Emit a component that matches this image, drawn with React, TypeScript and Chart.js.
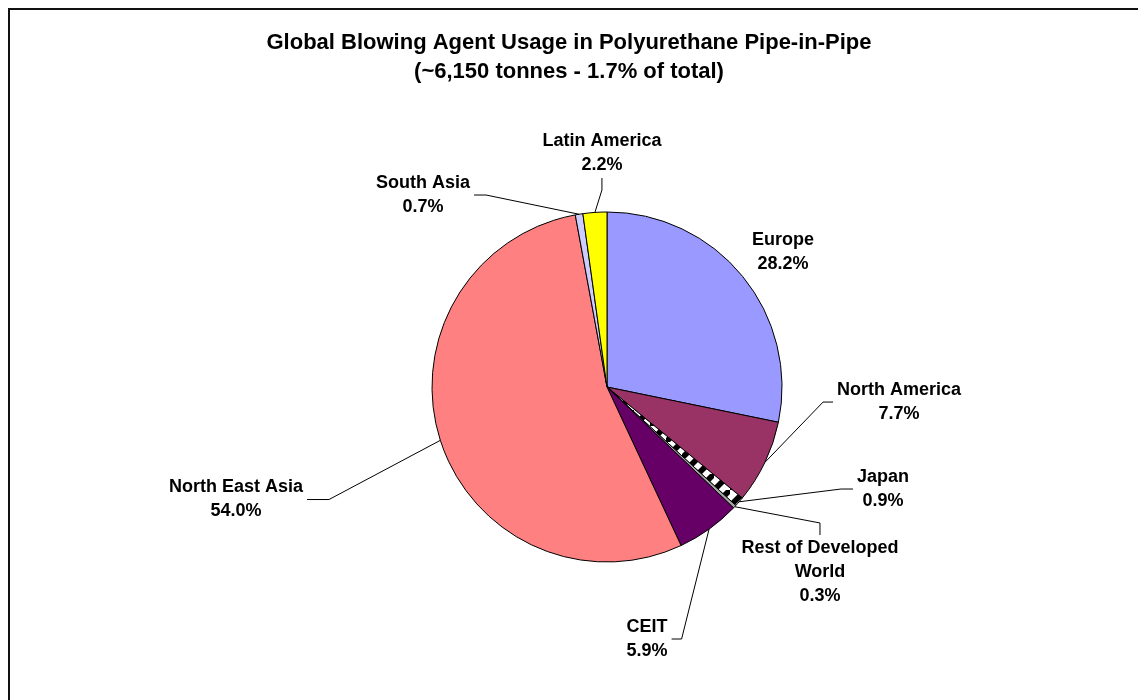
import React, { useEffect, useRef } from 'react';
import { Chart, registerables } from 'chart.js';

Chart.register(...registerables);

// ---- data ----
const categories = [
  'Europe',
  'North America',
  'Japan',
  'Rest of Developed World',
  'CEIT',
  'North East Asia',
  'South Asia',
  'Latin America',
];
const shares = [28.2, 7.7, 0.9, 0.3, 5.9, 54.0, 0.7, 2.2];
const nameLines = [
  ['Europe'],
  ['North America'],
  ['Japan'],
  ['Rest of Developed', 'World'],
  ['CEIT'],
  ['North East Asia'],
  ['South Asia'],
  ['Latin America'],
];
const titleLines = [
  'Global Blowing Agent Usage in Polyurethane Pipe-in-Pipe',
  '(~6,150 tonnes - 1.7% of total)',
];

// ---- styles / layout ----
const sliceColors = ['#9999FF', '#993366', 'PATTERN', '#A6A6A6', '#660066', '#FF8080', '#CCCCFF', '#FFFF00'];
// label block centre relative to pie centre, in units of the radius
const labelPos = [
  [1.006, -0.774],
  [1.669, 0.086],
  [1.577, 0.583],
  [1.217, 1.057],
  [0.229, 1.44],
  [-2.12, 0.643],
  [-1.051, -1.097],
  [-0.029, -1.337],
];
const leaderSide = ['none', 'left', 'left', 'top', 'right', 'right', 'right', 'bottom'];
const leaderElbow = [0, 10, 12, 12, 10, 22, 12, 12];
const FONT = '"Liberation Sans", Arial, Helvetica, sans-serif';
const LABEL_SIZE = 18;
const LINE_H = 24;
const TITLE_SIZE = 22;
const TITLE_X = 559;
const TITLE_Y = [33, 62];

function makeStripePattern(): CanvasPattern | string {
  const c = document.createElement('canvas');
  c.width = 16;
  c.height = 16;
  const g = c.getContext('2d');
  if (!g) return '#666';
  g.fillStyle = '#ffffff';
  g.fillRect(0, 0, 16, 16);
  g.fillStyle = '#000000';
  g.beginPath();
  // "/" diagonal stripe
  g.moveTo(0, 16);
  g.lineTo(0, 12);
  g.lineTo(12, 0);
  g.lineTo(16, 0);
  g.lineTo(16, 4);
  g.lineTo(4, 16);
  g.closePath();
  g.fill();
  const p = g.createPattern(c, 'repeat');
  return p || '#666';
}

const labelsPlugin = {
  id: 'sliceLabels',
  afterDraw(chart: any) {
    const ctx = chart.ctx as CanvasRenderingContext2D;
    ctx.save();
    // title
    ctx.fillStyle = '#000';
    ctx.textAlign = 'center';
    ctx.textBaseline = 'middle';
    ctx.font = `bold ${TITLE_SIZE}px ${FONT}`;
    titleLines.forEach((t, k) => ctx.fillText(t, TITLE_X, TITLE_Y[k]));

    const meta = chart.getDatasetMeta(0);
    ctx.font = `bold ${LABEL_SIZE}px ${FONT}`;
    meta.data.forEach((arc: any, i: number) => {
      const { x, y, startAngle, endAngle, outerRadius } = arc.getProps(
        ['x', 'y', 'startAngle', 'endAngle', 'outerRadius'],
        true
      );
      const lines = [...nameLines[i], `${shares[i].toFixed(1)}%`];
      const n = lines.length;
      const cx = x + labelPos[i][0] * outerRadius;
      const cy = y + labelPos[i][1] * outerRadius;
      const w = Math.max(...lines.map((l) => ctx.measureText(l).width));
      ctx.fillStyle = '#000';
      lines.forEach((l, k) => ctx.fillText(l, cx, cy + (k - (n - 1) / 2) * LINE_H));

      const side = leaderSide[i];
      if (side === 'none') return;
      const mid = (startAngle + endAngle) / 2;
      const px = x + Math.cos(mid) * outerRadius;
      const py = y + Math.sin(mid) * outerRadius;
      const len = leaderElbow[i];
      let ax = cx, ay = cy, ex = cx, ey = cy;
      if (side === 'left') {
        ax = cx - w / 2 - 4; ay = cy; ex = ax - len; ey = ay;
      } else if (side === 'right') {
        ax = cx + w / 2 + 4; ay = cy; ex = ax + len; ey = ay;
      } else if (side === 'top') {
        ax = cx; ay = cy - ((n - 1) / 2) * LINE_H - 13; ex = ax; ey = ay - len;
      } else {
        ax = cx; ay = cy + ((n - 1) / 2) * LINE_H + 13; ex = ax; ey = ay + len;
      }
      ctx.strokeStyle = '#000';
      ctx.lineWidth = 1;
      ctx.beginPath();
      ctx.moveTo(px, py);
      ctx.lineTo(ex, ey);
      ctx.lineTo(ax, ay);
      ctx.stroke();
    });
    ctx.restore();
  },
};

export default function App() {
  const ref = useRef<HTMLCanvasElement | null>(null);
  useEffect(() => {
    document.documentElement.style.overflow = 'hidden';
    document.body.style.overflow = 'hidden';
    if (!ref.current) return;
    const pattern = makeStripePattern();
    const colors = sliceColors.map((c) => (c === 'PATTERN' ? pattern : c));
    const chart = new Chart(ref.current, {
      type: 'pie',
      data: {
        labels: categories,
        datasets: [
          {
            data: shares,
            backgroundColor: colors as any,
            borderColor: '#000000',
            borderWidth: 1,
            hoverOffset: 0,
          },
        ],
      },
      options: {
        responsive: false,
        animation: false,
        layout: { padding: { top: 201.5, bottom: 137.5, left: 350, right: 292 } },
        plugins: {
          legend: { display: false },
          title: { display: false },
          tooltip: { enabled: false },
        },
        events: [],
      },
      plugins: [labelsPlugin],
    });
    return () => chart.destroy();
  }, []);
  return (
    <div
      style={{
        position: 'relative',
        width: 1138,
        height: 692,
        borderTop: '2px solid #111',
        borderLeft: '2px solid #111',
        background: '#fff',
      }}
    >
      <canvas ref={ref} width={1136} height={690} style={{ display: 'block' }} />
    </div>
  );
}
